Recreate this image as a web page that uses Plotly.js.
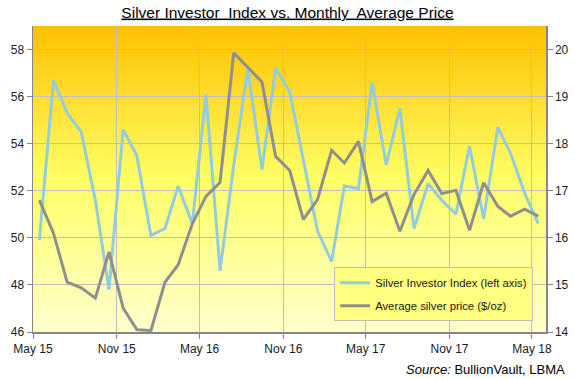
<!DOCTYPE html>
<html>
<head>
<meta charset="utf-8">
<script src="https://cdn.plot.ly/plotly-3.0.1.min.js"></script>
<style>
html,body{margin:0;padding:0;background:#fff;}
#chart{width:575px;height:379px;}
</style>
</head>
<body>
<div id="chart"></div>
<script>
// Monthly dates (mid-month), May 2015 - May 2018
var months = [
 "2015-05-15","2015-06-15","2015-07-15","2015-08-15","2015-09-15","2015-10-15","2015-11-15","2015-12-15",
 "2016-01-15","2016-02-15","2016-03-15","2016-04-15","2016-05-15","2016-06-15","2016-07-15","2016-08-15",
 "2016-09-15","2016-10-15","2016-11-15","2016-12-15","2017-01-15","2017-02-15","2017-03-15","2017-04-15",
 "2017-05-15","2017-06-15","2017-07-15","2017-08-15","2017-09-15","2017-10-15","2017-11-15","2017-12-15",
 "2018-01-15","2018-02-15","2018-03-15","2018-04-15","2018-05-15"];

// Silver Investor Index (left axis)
var investorIndex = [49.9,56.7,55.3,54.5,51.6,47.8,54.6,53.5,50.1,50.4,52.2,50.6,
 56.1,48.6,53.1,57.2,52.9,57.2,56.2,53.3,50.3,49.0,52.2,52.1,
 56.6,53.1,55.5,50.4,52.3,51.6,51.0,53.9,50.8,54.7,53.6,51.9,50.6];

// Average silver price $/oz (right axis)
var silverPrice = [16.80,16.10,15.06,14.94,14.72,15.70,14.51,14.05,14.03,15.06,15.43,16.30,
 16.88,17.18,19.93,19.63,19.31,17.73,17.43,16.39,16.81,17.86,17.59,18.05,
 16.77,16.95,16.14,16.92,17.43,16.94,17.01,16.16,17.17,16.67,16.46,16.61,16.46];

var tickDates = ["2015-05-01","2015-11-01","2016-05-01","2016-11-01","2017-05-01","2017-11-01","2018-05-01"];
var tickLabels = ["May 15","Nov 15","May 16","Nov 16","May 17","Nov 17","May 18"];

var seriesNames = ["Silver Investor Index (left axis)","Average silver price ($/oz)"];

var gradSvg = '<svg xmlns="http://www.w3.org/2000/svg" width="100" height="100" preserveAspectRatio="none">' +
 '<defs><linearGradient id="g" x1="0" y1="0" x2="0" y2="1">' +
 '<stop offset="0" stop-color="#FFC000"/><stop offset="0.5" stop-color="#FFFF66"/><stop offset="1" stop-color="#FFFFCC"/>' +
 '</linearGradient></defs><rect width="100" height="100" fill="url(#g)"/></svg>';
var gradUri = 'data:image/svg+xml;charset=utf-8,' + encodeURIComponent(gradSvg);

var traces = [
 {x: months, y: investorIndex, name: seriesNames[0], type: 'scatter', mode: 'lines',
  line: {color: '#93CDDD', width: 3}, yaxis: 'y', legendgroup: 'a'},
 {x: months, y: silverPrice, name: seriesNames[1], type: 'scatter', mode: 'lines',
  line: {color: '#8F8F8F', width: 3}, yaxis: 'y2', legendgroup: 'b'}
];

var axisFont = {family: 'Liberation Sans, Arial, sans-serif', size: 12, color: '#1a1a2a'};

var layout = {
 width: 575, height: 379,
 margin: {l: 33, r: 29, t: 26, b: 47},
 paper_bgcolor: '#ffffff',
 plot_bgcolor: 'rgba(0,0,0,0)',
 showlegend: true,
 title: {text: '<u>Silver Investor&nbsp; Index vs. Monthly&nbsp; Average Price</u>',
  font: {family: 'Liberation Sans, Arial, sans-serif', size: 15.5, color: '#000'},
  x: 0.5, xanchor: 'center', y: 0.968, yanchor: 'middle'},
 images: [{source: gradUri, xref: 'paper', yref: 'paper', x: 0, y: 1, sizex: 1, sizey: 1,
  xanchor: 'left', yanchor: 'top', sizing: 'stretch', layer: 'below'}],
 xaxis: {type: 'date', range: ['2015-05-01','2018-06-01'], tickvals: tickDates, ticktext: tickLabels,
  showgrid: true, gridcolor: '#BFBFBF', gridwidth: 1, ticks: 'outside', ticklen: 5, tickcolor: '#868686',
  showline: true, linecolor: '#868686', linewidth: 1.5, tickfont: axisFont, zeroline: false, fixedrange: true},
 yaxis: {range: [46, 59], tickvals: [46,48,50,52,54,56,58], showgrid: true, gridcolor: '#BFBFBF', gridwidth: 1,
  ticks: 'outside', ticklen: 5, tickcolor: '#868686', showline: true, linecolor: '#868686', linewidth: 1.5,
  tickfont: axisFont, zeroline: false, fixedrange: true},
 yaxis2: {range: [14, 20.5], tickvals: [14,15,16,17,18,19,20], overlaying: 'y', side: 'right', showgrid: false,
  ticks: 'outside', ticklen: 5, tickcolor: '#868686', showline: true, linecolor: '#868686', linewidth: 1.5,
  tickfont: axisFont, zeroline: false, fixedrange: true},
 legend: {x: 0.587, y: 0.212, xanchor: 'left', yanchor: 'top', bgcolor: '#FFFF80', bordercolor: '#BFBFBF',
  borderwidth: 1, tracegroupgap: 4, itemwidth: 30,
  font: {family: 'Liberation Sans, Arial, sans-serif', size: 11.3, color: '#1a1a1a'}},
 annotations: [{text: '<i>Source:</i> BullionVault, LBMA', xref: 'paper', yref: 'paper', x: 1.041, y: -0.124,
  xanchor: 'right', yanchor: 'middle', showarrow: false,
  font: {family: 'Liberation Sans, Arial, sans-serif', size: 13, color: '#000'}}]
};

Plotly.newPlot('chart', traces, layout, {displayModeBar: false, staticPlot: true});
</script>
</body>
</html>
